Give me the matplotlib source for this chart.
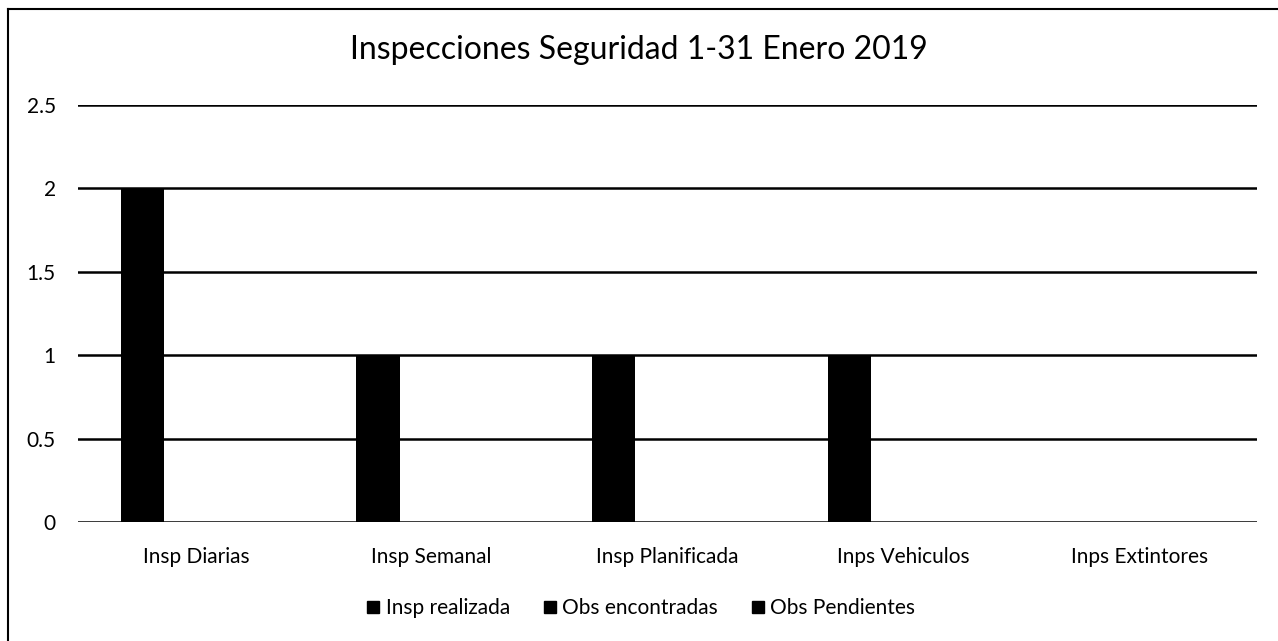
import matplotlib.pyplot as plt
import numpy as np
from matplotlib.lines import Line2D

categories = ["Insp Diarias", "Insp Semanal", "Insp Planificada", "Inps Vehiculos", "Inps Extintores"]
series_names = ["Insp realizada", "Obs encontradas", "Obs Pendientes"]
insp_realizada = [2, 1, 1, 1, 0]
obs_encontradas = [0, 0, 0, 0, 0]
obs_pendientes = [0, 0, 0, 0, 0]
yticks = [0, 0.5, 1, 1.5, 2, 2.5]

plt.rcParams['font.family'] = ['Lato', 'DejaVu Sans']

fig = plt.figure(figsize=(12.78, 6.41), dpi=100)
ax = fig.add_axes([78 / 1278, 1 - 522 / 641, (1257 - 78) / 1278, (522 - 105) / 641])

x = np.arange(len(categories))
width = 0.183
offsets = [-0.228, 0.0, 0.228]
for values, off in zip([insp_realizada, obs_encontradas, obs_pendientes], offsets):
    ax.bar(x + off, values, width, color='black', zorder=3)

ax.set_xlim(-0.5, len(categories) - 0.5)
ax.set_ylim(0, 2.5)
ax.set_yticks(yticks)
ax.set_yticklabels(["0", "0.5", "1", "1.5", "2", "2.5"], fontsize=15)
ax.set_xticks(x)
ax.set_xticklabels(categories, fontsize=15)
ax.tick_params(length=0)
ax.tick_params(axis='x', pad=18)
ax.tick_params(axis='y', pad=16)
for sp in ax.spines.values():
    sp.set_visible(False)
ax.yaxis.grid(True, color='black', linewidth=1.8, zorder=1)
ax.set_axisbelow(True)

fig.text(0.5, 1 - 50 / 641, "Inspecciones Seguridad 1-31 Enero 2019", ha='center', va='center', fontsize=23)

handles = [Line2D([], [], marker='s', linestyle='none', color='black', markersize=9) for _ in series_names]
fig.legend(handles, series_names, loc='center', bbox_to_anchor=(0.5, 1 - 608 / 641), ncol=3,
           frameon=False, fontsize=15, handletextpad=0.1, columnspacing=1.4, handlelength=1.0)

# scanned frame: only top and left edges visible
fig.add_artist(Line2D([8 / 1278, 8 / 1278], [0, 1 - 9 / 641], color='black', linewidth=1.5, transform=fig.transFigure))
fig.add_artist(Line2D([8 / 1278, 1], [1 - 9 / 641, 1 - 9 / 641], color='black', linewidth=1.5, transform=fig.transFigure))

fig.savefig("out.png", dpi=100)
